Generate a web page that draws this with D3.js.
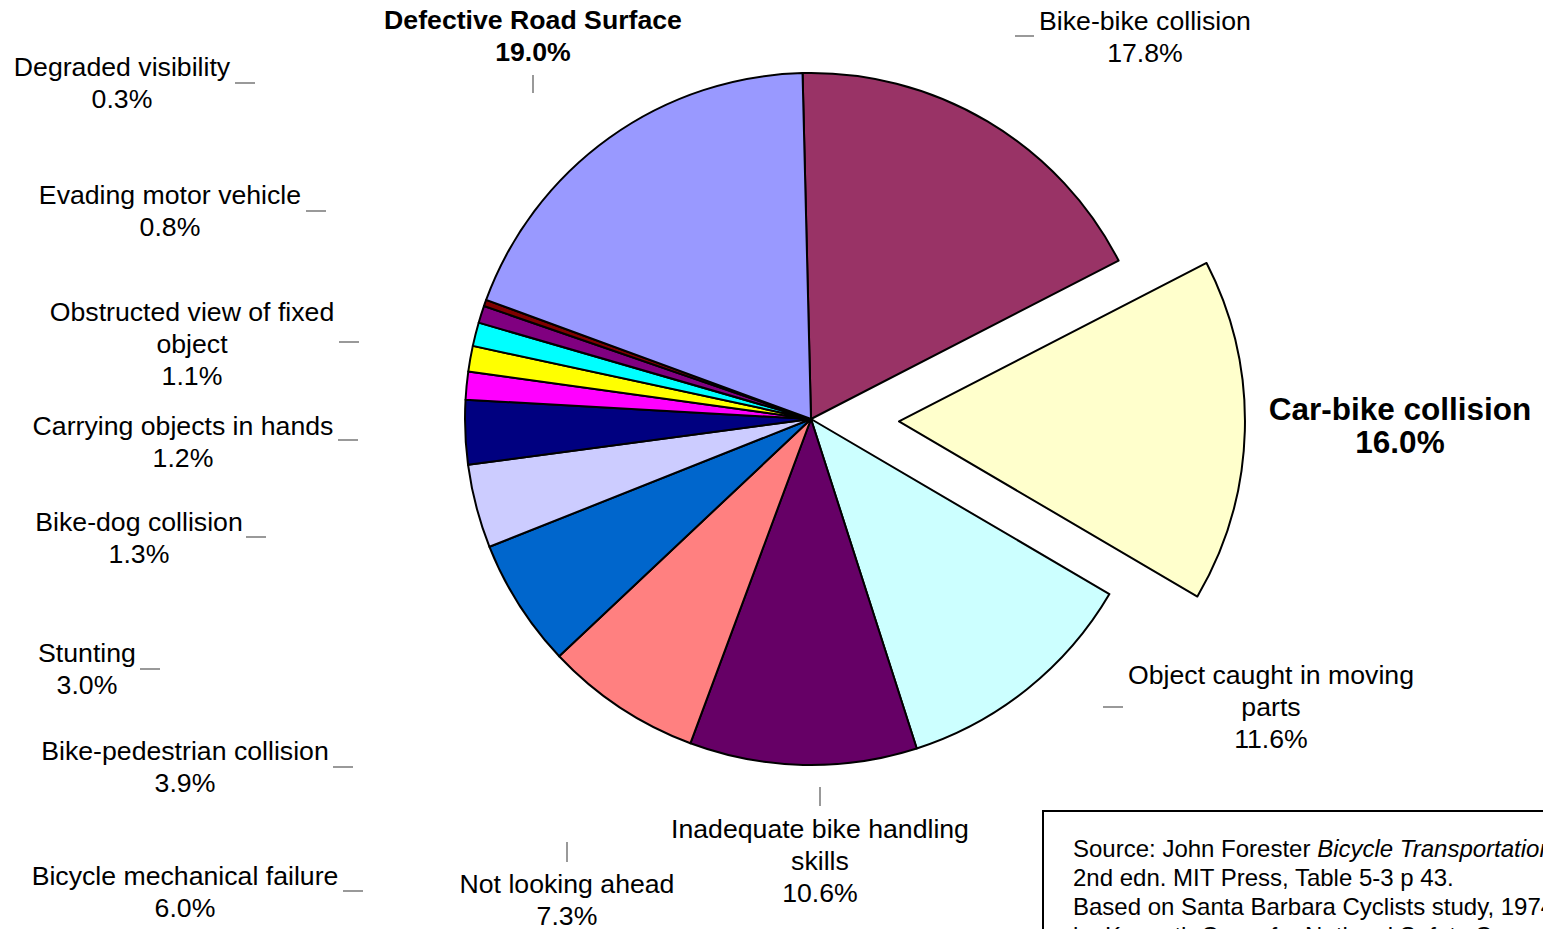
<!DOCTYPE html>
<html><head><meta charset="utf-8">
<script src="https://cdn.jsdelivr.net/npm/d3@7"></script>
<style>
body{margin:0;background:#fff;overflow:hidden}
svg{display:block}
text{font-family:"Liberation Sans",Arial,Helvetica,sans-serif;fill:#000}
</style>
</head><body>
<svg id="chart" width="1543" height="929"></svg>
<script>
// ---- data ----
const categories = [
  "Bike-bike collision", "Car-bike collision", "Object caught in moving parts",
  "Inadequate bike handling skills", "Not looking ahead", "Bicycle mechanical failure",
  "Bike-pedestrian collision", "Stunting", "Bike-dog collision",
  "Carrying objects in hands", "Obstructed view of fixed object",
  "Evading motor vehicle", "Degraded visibility", "Defective Road Surface"
];
const values = [17.8, 16.0, 11.6, 10.6, 7.3, 6.0, 3.9, 3.0, 1.3, 1.2, 1.1, 0.8, 0.3, 19.0];
const colors = [
  "#993366", "#FFFFCC", "#CCFFFF", "#660066", "#FF8080", "#0066CC", "#CCCCFF",
  "#000080", "#FF00FF", "#FFFF00", "#00FFFF", "#800080", "#800000", "#9999FF"
];
// how each category name wraps in its label
const labelWraps = [
  ["Bike-bike collision"], ["Car-bike collision"], ["Object caught in moving", "parts"],
  ["Inadequate bike handling", "skills"], ["Not looking ahead"], ["Bicycle mechanical failure"],
  ["Bike-pedestrian collision"], ["Stunting"], ["Bike-dog collision"],
  ["Carrying objects in hands"], ["Obstructed view of fixed", "object"],
  ["Evading motor vehicle"], ["Degraded visibility"], ["Defective Road Surface"]
];
const explodedIndex = 1;
const boldIndices = [1, 13];
const sourceLines = [
  [["Source: John Forester ", false], ["Bicycle Transportation,", true]],
  [["2nd edn. MIT Press, Table 5-3 p 43.", false]],
  [["Based on Santa Barbara Cyclists study, 1974", false]],
  [["by Kenneth Cross for National Safety Council", false]]
];

// ---- layout ----
const cx = 811, cy = 419, R = 346, explode = 88;
const startDeg = -1.4;
// label anchor (center x, first line center y), font size, line height, leader segment
const labelLayout = [
  {x:1145, y:21,  fs:26.67, lh:32, lead:[1015,36,1034,36]},
  {x:1400, y:410, fs:31.5,  lh:33, lead:null},
  {x:1271, y:675, fs:26.67, lh:32, lead:[1103,707,1123,707]},
  {x:820,  y:829, fs:26.67, lh:32, lead:[820,787,820,806]},
  {x:567,  y:884, fs:26.67, lh:32, lead:[567,842,567,862]},
  {x:185,  y:876, fs:26.67, lh:32, lead:[343,891,363,891]},
  {x:185,  y:751, fs:26.67, lh:32, lead:[333,767,353,767]},
  {x:87,   y:653, fs:26.67, lh:32, lead:[140,669,160,669]},
  {x:139,  y:522, fs:26.67, lh:32, lead:[246,537,266,537]},
  {x:183,  y:426, fs:26.67, lh:32, lead:[338,440,358,440]},
  {x:192,  y:312, fs:26.67, lh:32, lead:[339,342,359,342]},
  {x:170,  y:195, fs:26.67, lh:32, lead:[306,211,326,211]},
  {x:122,  y:67,  fs:26.67, lh:32, lead:[235,83,255,83]},
  {x:533,  y:20,  fs:26.67, lh:32, lead:[533,75,533,93]}
];

const svg = d3.select("#chart");
const data = categories.map((c, i) => ({name: c, value: values[i], color: colors[i], i}));

const start = startDeg * Math.PI / 180;
const pie = d3.pie().value(d => d.value).sort(null)
  .startAngle(start).endAngle(start + 2 * Math.PI);
const arc = d3.arc().innerRadius(0).outerRadius(R);
const arcs = pie(data);

const g = svg.append("g").attr("transform", `translate(${cx},${cy})`);
g.selectAll("path").data(arcs).join("path")
  .attr("d", arc)
  .attr("fill", d => d.data.color)
  .attr("stroke", "#000")
  .attr("stroke-width", 2)
  .attr("stroke-linejoin", "round")
  .attr("transform", d => {
    if (d.data.i !== explodedIndex) return null;
    const m = (d.startAngle + d.endAngle) / 2;
    return `translate(${Math.sin(m) * explode},${-Math.cos(m) * explode})`;
  });

// leader lines
const fmt = d3.format(".1f");
svg.append("g").selectAll("line")
  .data(labelLayout.filter(l => l.lead))
  .join("line")
  .attr("x1", l => l.lead[0]).attr("y1", l => l.lead[1])
  .attr("x2", l => l.lead[2]).attr("y2", l => l.lead[3])
  .attr("stroke", "#555").attr("stroke-width", 1.2);

// labels
const lg = svg.append("g");
data.forEach((d, i) => {
  const L = labelLayout[i];
  const lines = labelWraps[i].concat([fmt(d.value) + "%"]);
  const t = lg.append("text")
    .attr("text-anchor", "middle")
    .attr("font-size", L.fs)
    .attr("font-weight", boldIndices.includes(i) ? "bold" : "normal");
  lines.forEach((s, k) => {
    t.append("tspan").attr("x", L.x).attr("y", L.y + k * L.lh).attr("dy", "0.33em").text(s);
  });
});

// source box
const sb = svg.append("g");
sb.append("rect").attr("x", 1043).attr("y", 811).attr("width", 700).attr("height", 300)
  .attr("fill", "#fff").attr("stroke", "#000").attr("stroke-width", 2);
const st = sb.append("text").attr("font-size", 24);
sourceLines.forEach((parts, k) => {
  const line = st.append("tspan").attr("x", 1073).attr("y", 849 + k * 29).attr("dy", "0.33em");
  parts.forEach(([txt, it]) => {
    line.append("tspan").attr("font-style", it ? "italic" : "normal").text(txt);
  });
});
</script>
</body></html>
